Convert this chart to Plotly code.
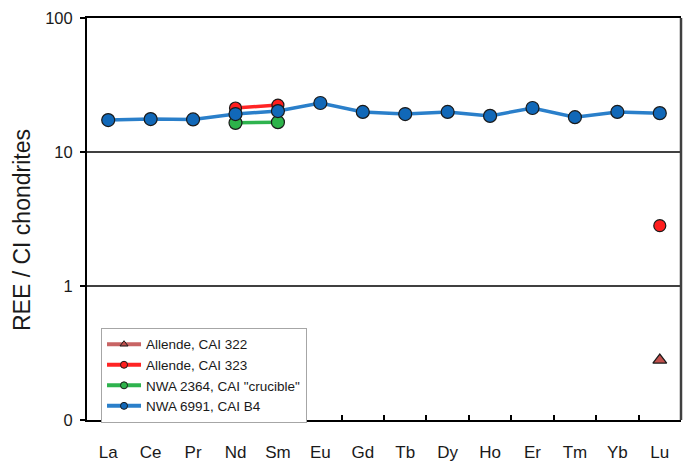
import plotly.graph_objects as go

elements = ["La", "Ce", "Pr", "Nd", "Sm", "Eu", "Gd", "Tb", "Dy", "Ho", "Er", "Tm", "Yb", "Lu"]

allende_322 = [None, None, None, None, None, None, None, None, None, None, None, None, None, 0.28]
allende_323 = [None, None, None, 21.3, 22.4, None, None, None, None, None, None, None, None, 2.82]
nwa_2364 = [None, None, None, 16.5, 16.7, None, None, None, None, None, None, None, None, None]
nwa_6991 = [17.3, 17.6, 17.5, 19.2, 20.2, 23.2, 19.9, 19.2, 19.9, 18.6, 21.3, 18.2, 19.9, 19.5]

series_names = ["Allende, CAI 322", "Allende, CAI 323", 'NWA 2364, CAI "crucible"', "NWA 6991, CAI B4"]
series_values = [allende_322, allende_323, nwa_2364, nwa_6991]
line_colors = ["#C86464", "#FF2424", "#2EB34E", "#2A7FCA"]
marker_colors = ["#C0504D", "#FF1E1E", "#2DB34A", "#1168B8"]
symbols = ["triangle-up", "circle", "circle", "circle"]
marker_sizes = [12, 12, 13, 13]

ytick_vals = [0.1, 1, 10, 100]
ytick_text = ["0", "1", "10", "100"]

FONT = "Arial, Liberation Sans, sans-serif"

fig = go.Figure()

for name, vals, lc, mc, sym, ms in zip(series_names, series_values, line_colors, marker_colors, symbols, marker_sizes):
    fig.add_trace(go.Scatter(
        x=elements, y=vals, mode="lines+markers", name=name,
        line=dict(color=lc, width=3.5), connectgaps=False,
        marker=dict(symbol=sym, size=ms, color=mc, line=dict(color="#1a1a1a", width=1.2)),
        showlegend=False, legendgroup=name,
    ))

for name, lc, mc, sym in zip(series_names, line_colors, marker_colors, symbols):
    fig.add_trace(go.Scatter(
        x=[None], y=[None], mode="lines+markers", name=name,
        line=dict(color=lc, width=4),
        marker=dict(symbol=sym, size=7, color=mc, line=dict(color="#1a1a1a", width=1)),
        showlegend=True, legendgroup=name,
    ))

fig.update_layout(
    width=683, height=468,
    margin=dict(l=87, r=2, t=18, b=48),
    paper_bgcolor="white", plot_bgcolor="white",
    font=dict(family=FONT, color="#1a1a1a"),
    showlegend=True,
    legend=dict(
        x=0.0236, y=0.229, xanchor="left", yanchor="top",
        bordercolor="#A6A6A6", borderwidth=1, bgcolor="white",
        font=dict(size=13.5, family=FONT, color="#1a1a1a"),
        tracegroupgap=0, itemwidth=34,
    ),
    xaxis=dict(
        type="category", categoryorder="array", categoryarray=elements,
        range=[-0.5, 13.5],
        showline=True, linecolor="black", linewidth=2, mirror=True,
        ticks="inside", tickson="boundaries", ticklen=5, tickcolor="black", tickwidth=1.5,
        showgrid=False, zeroline=False,
        tickfont=dict(size=17, family=FONT, color="#1a1a1a"),
        ticklabelstandoff=16,
    ),
    yaxis=dict(
        type="log", range=[-1, 2],
        tickvals=ytick_vals, ticktext=ytick_text,
        showline=True, linecolor="black", linewidth=2,
        ticks="outside", ticklen=5, tickcolor="black", tickwidth=1.5,
        showgrid=True, gridcolor="#404040", gridwidth=2,
        zeroline=False,
        tickfont=dict(size=16.5, family=FONT, color="#1a1a1a"),
        ticklabelstandoff=4,
    ),
    shapes=[dict(type="line", xref="paper", yref="paper", x0=1, x1=1, y0=0, y1=1,
                 line=dict(color="#404040", width=2.5))],
    annotations=[dict(
        text="REE / CI chondrites", xref="paper", yref="paper",
        x=(22 - 87) / 594, y=(420 - 230) / 402, xanchor="center", yanchor="middle",
        textangle=-90, showarrow=False,
        font=dict(size=23, family=FONT, color="#1a1a1a"),
    )],
)

fig.write_html("out.html")
